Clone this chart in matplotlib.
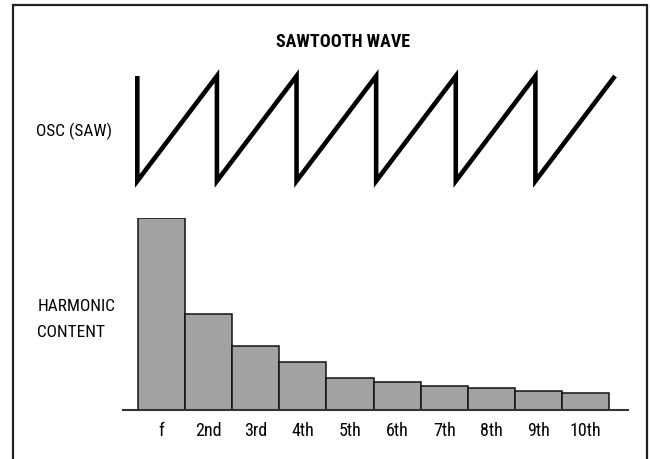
import matplotlib
matplotlib.use("Agg")
from matplotlib import pyplot as plt
from matplotlib.patches import Rectangle

# harmonic levels (fundamental = 100)
harmonics = ["f", "2nd", "3rd", "4th", "5th", "6th", "7th", "8th", "9th", "10th"]
levels = [100, 50, 33.4, 24.9, 16.5, 14.3, 12.4, 11.2, 9.9, 8.9]

# sawtooth corner points (time in periods, level 0..1)
saw_t = [0, 0, 1, 1, 2, 2, 3, 3, 4, 4, 5, 5, 6]
saw_level = [1, 0, 1, 0, 1, 0, 1, 0, 1, 0, 1, 0, 1]

title = "SAWTOOTH WAVE"
osc_label = "OSC (SAW)"
harm_label = ["HARMONIC", "CONTENT"]

font = ["Liberation Sans Narrow", "Roboto Condensed", "Open Sans Condensed", "DejaVu Sans"]
W, H = 650, 460

fig = plt.figure(figsize=(W / 100, H / 100), dpi=100)
fig.patch.set_facecolor("white")

# frame around the figure (bottom edge falls outside the picture)
fig.patches.append(Rectangle((13.3 / W, -0.05), (647.3 - 13.3) / W, 1.05 - 6 / H,
                             transform=fig.transFigure, fill=False,
                             edgecolor="#222222", linewidth=1.6))

# sawtooth
ax_saw = fig.add_axes([137.3 / W, (H - 182) / H, (615 - 137.3) / W, (182 - 77) / H])
ax_saw.plot(saw_t, saw_level, color="black", linewidth=3.3,
            solid_joinstyle="miter", solid_capstyle="butt", clip_on=False)
ax_saw.set_xlim(0, 6)
ax_saw.set_ylim(0, 1)
ax_saw.axis("off")

# harmonic bars
ax_bar = fig.add_axes([122.7 / W, (H - 410.7) / H, (628.3 - 122.7) / W, 191.7 / H])
x = range(len(harmonics))
ax_bar.bar(x, levels, width=1.0, color="#a2a2a2", edgecolor="#111111", linewidth=1.1)
ax_bar.set_xlim(-0.82, 9.90)
ax_bar.set_ylim(0, 100)
for side in ["top", "right", "left"]:
    ax_bar.spines[side].set_visible(False)
ax_bar.spines["bottom"].set_color("#333333")
ax_bar.spines["bottom"].set_linewidth(1.5)
ax_bar.set_yticks([])
ax_bar.set_xticks(list(x))
ax_bar.set_xticklabels(harmonics, family=font, fontsize=13, fontstretch="condensed")
ax_bar.tick_params(axis="x", length=0, pad=8)

# texts
fig.text(342.5 / W, (H - 47.3) / H, title, ha="center", va="baseline",
         family=font, fontsize=13, fontweight="bold", fontstretch="condensed")
fig.text(36 / W, (H - 136) / H, osc_label, ha="left", va="baseline",
         family=font, fontsize=12.4, fontstretch="condensed")
fig.text(37.5 / W, (H - 310.7) / H, harm_label[0], ha="left", va="baseline",
         family=font, fontsize=12.4, fontstretch="condensed")
fig.text(37.5 / W, (H - 337.3) / H, harm_label[1], ha="left", va="baseline",
         family=font, fontsize=12.4, fontstretch="condensed")

fig.savefig("out.png", dpi=100)
